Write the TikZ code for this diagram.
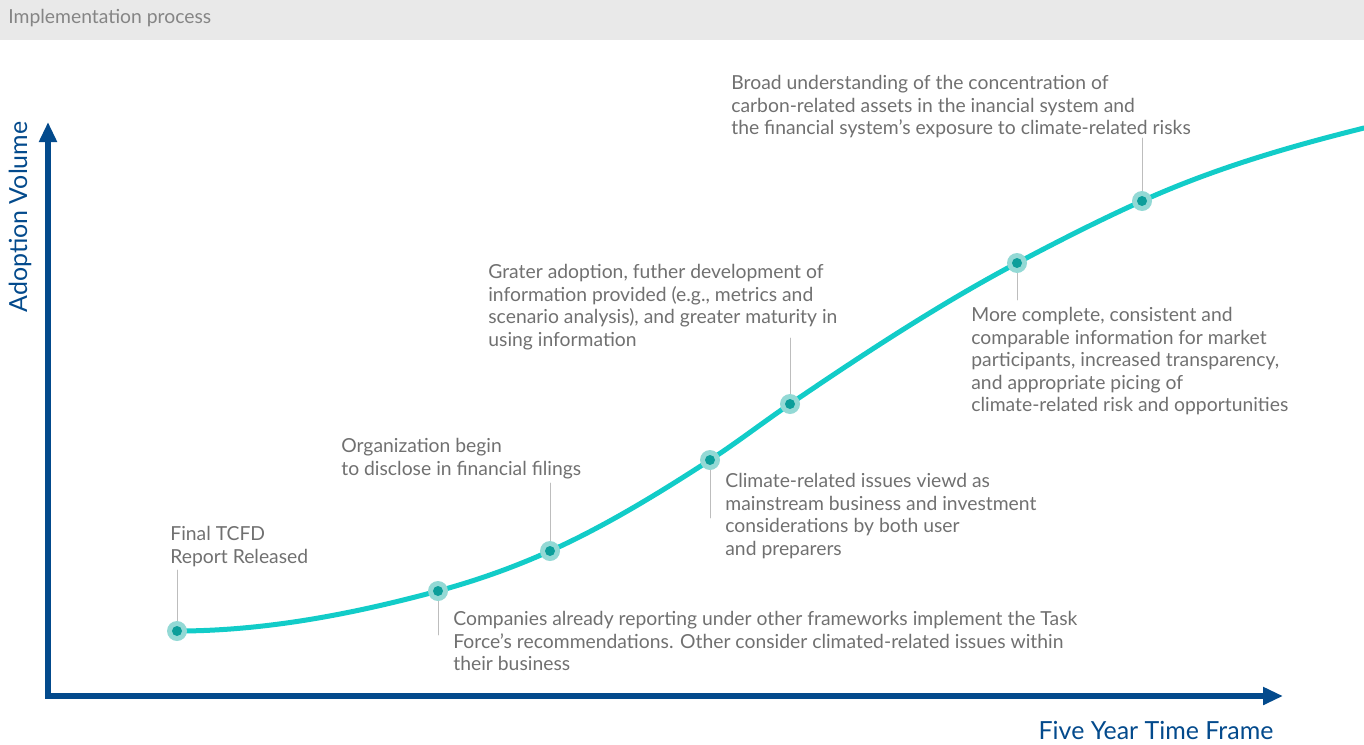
\documentclass[tikz,border=0pt]{standalone}
\usepackage{fontspec}
\setmainfont{Lato}
\usetikzlibrary{arrows.meta}
\definecolor{axisblue}{HTML}{034A8C}
\definecolor{curveteal}{HTML}{12CCC8}
\definecolor{halo}{HTML}{93D9D5}
\definecolor{dotteal}{HTML}{0C9E9A}
\definecolor{notegray}{HTML}{707070}
\definecolor{leadgray}{HTML}{BDBDBD}
\definecolor{bandgray}{HTML}{E9E9E9}
\begin{document}
\begin{tikzpicture}[x=0.02cm, y=-0.02cm, line cap=round]
	\tikzstyle{note} = [anchor=north west, inner sep=0pt, align=left, text=notegray, font=\fontsize{11}{12.8}\selectfont]
	\tikzstyle{lead} = [draw=leadgray, line width=0.5pt]
	\tikzstyle{pt} = [circle, fill=halo, minimum size=0.4cm, inner sep=0pt, path picture={\fill[dotteal] (path picture bounding box.center) circle (0.1cm);}]
	\tikzstyle{axis} = [draw=axisblue, line width=0.12cm, line join=miter, line cap=butt]
	\tikzstyle{axlabel} = [text=axisblue, font=\fontsize{14.2}{16}\selectfont]
	\useasboundingbox (0,0) rectangle (1364,744);
	% header band
	\fill[bandgray] (0,0) rectangle (1364,40);
	\node[anchor=west, inner sep=0pt, text=notegray!85, font=\fontsize{11}{13}\selectfont] (title) at (8,18) {Implementation process};
	% axes
	\draw[axis, {Triangle[length=0.4cm, width=0.34cm]}-{Triangle[length=0.4cm, width=0.34cm]}] (48,122) -- (48,696) -- (1283,696);
	\node[axlabel, rotate=90] (ylab) at (20,217) {Adoption Volume};
	\node[axlabel] (xlab) at (1156,730) {Five Year Time Frame};
	% milestones on the curve
	\coordinate (p1) at (177,631);
	\coordinate (p2) at (438,591);
	\coordinate (p3) at (550,551);
	\coordinate (p4) at (710,460);
	\coordinate (p5) at (790,404);
	\coordinate (p6) at (1017,263);
	\coordinate (p7) at (1142,201);
	\coordinate (pend) at (1364,128);
	% leader ends
	\coordinate (l1) at (177,570);
	\coordinate (l2) at (438,635);
	\coordinate (l3) at (550,483);
	\coordinate (l4) at (710,518);
	\coordinate (l5) at (790,338);
	\coordinate (l6) at (1017,300);
	\coordinate (l7) at (1142,138);
	\foreach \i in {1,...,7}
		\draw[lead] (p\i) -- (l\i);
	% adoption curve
	\draw[curveteal, line width=0.1cm]
		(p1) .. controls (264,631) and (351,614.5) .. (p2)
		     .. controls (475.3,580.9) and (512.7,567.8) .. (p3)
		     .. controls (603.3,527) and (656.7,494.7) .. (p4)
		     .. controls (736.7,442.7) and (763.3,422.1) .. (p5)
		     .. controls (865.7,352.5) and (941.3,303.1) .. (p6)
		     .. controls (1058.7,240.9) and (1100.3,219.75) .. (p7)
		     .. controls (1216,167.7) and (1290,146.5) .. (pend);
	\foreach \i in {1,...,7}
		\node[pt] (d\i) at (p\i) {};
	% notes
	\node[note] (n1) at (170,526) {Final TCFD\\Report Released};
	\node[note] (n2) at (453,611) {Companies already reporting under other frameworks implement the Task\\Force's recommendations. Other consider climated-related issues within\\their business};
	\node[note] (n3) at (341,438) {Organization begin\\to disclose in financial filings};
	\node[note] (n4) at (488,264) {Grater adoption, futher development of\\information provided (e.g., metrics and\\scenario analysis), and greater maturity in\\using information};
	\node[note] (n5) at (725,473) {Climate-related issues viewd as\\mainstream business and investment\\considerations by both user\\and preparers};
	\node[note] (n6) at (971,307) {More complete, consistent and\\comparable information for market\\participants, increased transparency,\\and appropriate picing of\\climate-related risk and opportunities};
	\node[note] (n7) at (731,75) {Broad understanding of the concentration of\\carbon-related assets in the inancial system and\\the financial system's exposure to climate-related risks};
\end{tikzpicture}
\end{document}
